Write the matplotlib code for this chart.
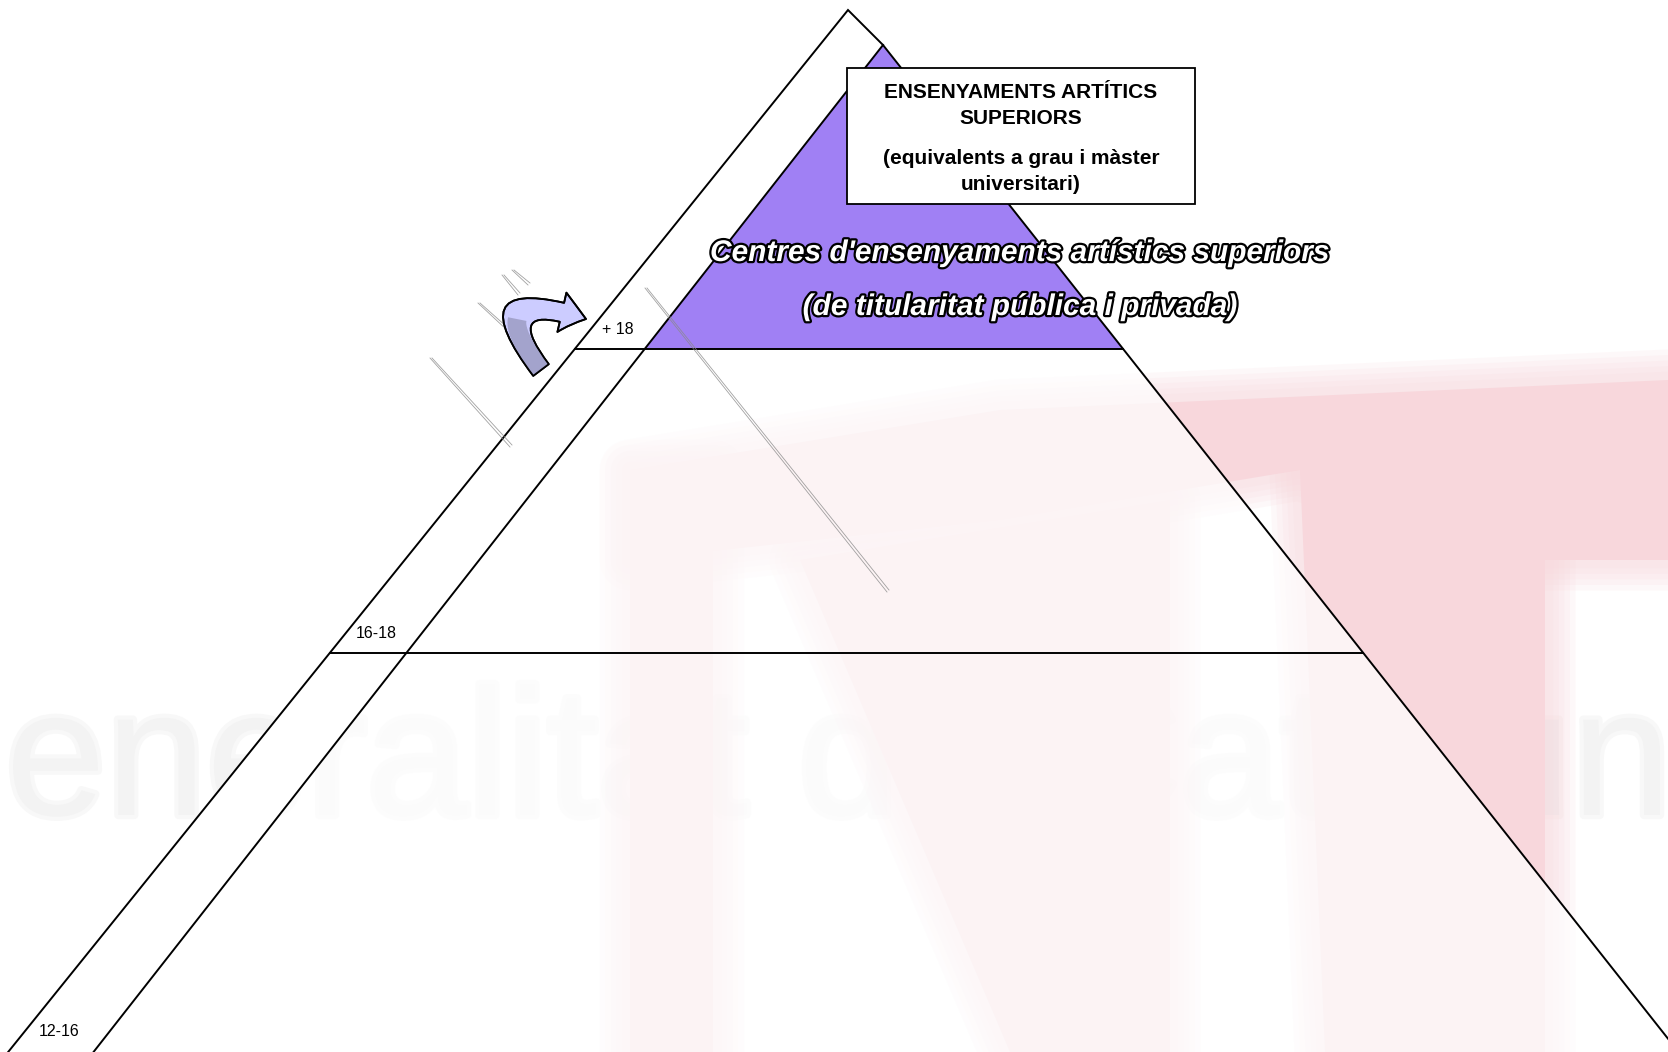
import numpy as np
import matplotlib
matplotlib.use("Agg")
import matplotlib.pyplot as plt
import matplotlib.patheffects as pe
from matplotlib.patches import Polygon, Rectangle, FancyArrowPatch, ArrowStyle
from matplotlib.path import Path

# age levels of the pyramid and the pixel row where each one ends
level_labels = ["+ 18", "16-18", "12-16"]
level_bottoms = [349, 653, 1052]

box_title = ["ENSENYAMENTS ARTÍTICS", "SUPERIORS"]
box_subtitle = ["(equivalents a grau i màster", "universitari)"]
centre_lines = ["Centres d'ensenyaments artístics superiors",
                "(de titularitat pública i privada)"]
watermark_text = "Generalitat de Catalunya"

W, H = 1668, 1052
APEX_OUT = (848, 10)     # tip of the left age band
APEX_IN = (883, 45)      # tip of the main triangle
SLOPE_OUT = 0.806        # px sideways per px down
SLOPE_IN = 0.784
SLOPE_RIGHT = 0.79


def outer_left(y):
    return APEX_OUT[0] - SLOPE_OUT * (y - APEX_OUT[1])


def inner_left(y):
    return APEX_IN[0] - SLOPE_IN * (y - APEX_IN[1])


def right_side(y):
    return APEX_IN[0] + SLOPE_RIGHT * (y - APEX_IN[1])


fig = plt.figure(figsize=(W / 100, H / 100), dpi=100)
ax = fig.add_axes([0, 0, 1, 1])
ax.set_xlim(0, W)
ax.set_ylim(H, 0)
ax.axis("off")

# faded logo in the background
ax.text(-135, 815, watermark_text, fontsize=130, color="#f3f3f3",
        family="Liberation Sans", va="baseline", ha="left", zorder=0,
        path_effects=[pe.withStroke(linewidth=6, foreground="#f8f8f8")])
pink = "#f8d7dc"
pink_shapes = [
    [(630, 470), (1000, 410), (1668, 380), (1668, 560), (1545, 560),
     (1300, 470), (1000, 520), (630, 560)],
    [(630, 470), (713, 470), (713, 1052), (630, 1052)],
    [(800, 560), (1170, 500), (1170, 1052), (1010, 1052)],
    [(1300, 470), (1545, 430), (1545, 1052), (1325, 1052)],
]
for shape in pink_shapes:
    # soft edge: a few wide translucent outlines under the solid shape
    for halo in [44, 36, 28, 20, 12]:
        ax.add_patch(Polygon(shape, closed=True, fc="none", ec=pink, lw=halo,
                             alpha=0.16, joinstyle="round", zorder=1))
    ax.add_patch(Polygon(shape, closed=True, fc=pink, ec="none", zorder=1))

# pyramid body: veil over the main triangle, solid white band on the left
y_base = level_bottoms[-1]
ax.add_patch(Polygon([APEX_IN, (right_side(y_base), y_base), (inner_left(y_base), y_base)],
                     closed=True, fc="white", ec="none", alpha=0.7, zorder=2))
ax.add_patch(Polygon([APEX_OUT, APEX_IN, (inner_left(y_base), y_base), (outer_left(y_base), y_base)],
                     closed=True, fc="white", ec="none", zorder=3))

# top level in purple
y_top = level_bottoms[0]
ax.add_patch(Polygon([APEX_IN, (right_side(y_top), y_top), (inner_left(y_top), y_top)],
                     closed=True, fc="#a080f4", ec="none", zorder=3))

lw = 1.4
ax.plot([outer_left(y_base), APEX_OUT[0], APEX_IN[0], right_side(y_base)],
        [y_base, APEX_OUT[1], APEX_IN[1], y_base],
        color="black", lw=lw, zorder=4, solid_joinstyle="miter")
ax.plot([inner_left(y_base), APEX_IN[0]], [y_base, APEX_IN[1]], color="black", lw=lw, zorder=4)
for y in level_bottoms[:-1]:
    ax.plot([outer_left(y), right_side(y)], [y, y], color="black", lw=lw, zorder=4)

# age labels inside the left band
for lab, y in zip(level_labels, level_bottoms):
    xm = (outer_left(y - 20) + inner_left(y - 20)) / 2 - 8
    ax.text(xm, y - 20, lab, fontsize=11.5, family="Liberation Sans",
            ha="center", va="center", zorder=6)

# title box
ax.add_patch(Rectangle((847, 68), 348, 136, fc="white", ec="black", lw=1.3, zorder=6))
for txt, y in zip(box_title, [93, 119]):
    ax.text(1021, y, txt, fontsize=15, weight="bold", family="Liberation Sans",
            ha="center", va="center", zorder=7)
for txt, y in zip(box_subtitle, [159, 185]):
    ax.text(1021, y, txt, fontsize=15, weight="bold", family="Liberation Sans",
            ha="center", va="center", zorder=7)

# outlined italic caption
outline = [pe.withStroke(linewidth=3.2, foreground="black")]
for txt, y in zip(centre_lines, [253, 307]):
    ax.text(1020, y, txt, fontsize=21.5, weight="bold", style="italic", color="white",
            family="Liberation Sans", ha="center", va="center",
            path_effects=outline, zorder=8)

# pencil strokes
strokes = [((430, 358), (510, 447)), ((478, 303), (523, 345)),
           ((502, 275), (518, 295)), ((512, 270), (528, 285)),
           ((645, 288), (887, 592))]
for (x0, y0), (x1, y1) in strokes:
    for off in (0, 2):
        ax.plot([x0 + off, x1 + off], [y0, y1 - off], color="#8a8a8a", lw=0.6,
                alpha=0.8, zorder=5)

# curved arrow, darker where the tail turns under
p0 = np.array([541, 370])
pc = np.array([476, 284])
p1 = np.array([586, 319])
arrow_path = Path([p0, pc, p1], [Path.MOVETO, Path.CURVE3, Path.CURVE3])
style = ArrowStyle.Simple(head_length=1.8, head_width=2.9, tail_width=1.4)
ax.add_patch(FancyArrowPatch(path=arrow_path, arrowstyle=style, mutation_scale=10,
                             fc="#ccccff", ec="black", lw=1.3, zorder=6))
t = np.linspace(0, 0.42, 30)[:, None]
tail = (1 - t) ** 2 * p0 + 2 * (1 - t) * t * pc + t ** 2 * p1
ax.plot(tail[:, 0], tail[:, 1], color="#a3a3cc", lw=13.5, solid_capstyle="butt", zorder=6.5)
ax.add_patch(FancyArrowPatch(path=arrow_path, arrowstyle=style, mutation_scale=10,
                             fc="none", ec="black", lw=1.3, zorder=7))

fig.savefig("out.png", dpi=100, facecolor="white")
